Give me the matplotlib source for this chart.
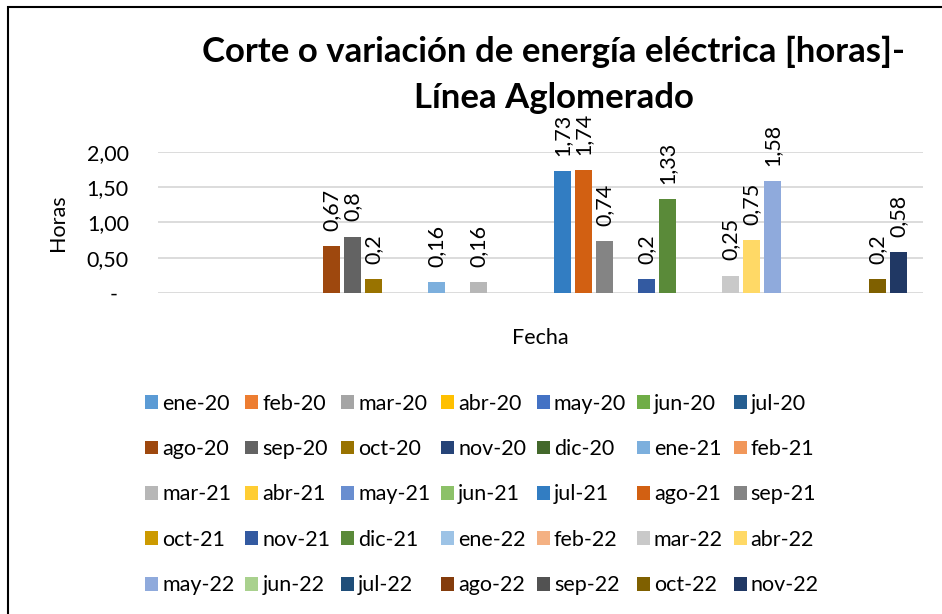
import numpy as np
import matplotlib
matplotlib.use("Agg")
import matplotlib.pyplot as plt
from matplotlib.patches import Rectangle

plt.rcParams['font.family'] = ['Lato', 'DejaVu Sans']

# one series per month, blank months have no value
months = ["ene-20", "feb-20", "mar-20", "abr-20", "may-20", "jun-20", "jul-20",
          "ago-20", "sep-20", "oct-20", "nov-20", "dic-20", "ene-21", "feb-21",
          "mar-21", "abr-21", "may-21", "jun-21", "jul-21", "ago-21", "sep-21",
          "oct-21", "nov-21", "dic-21", "ene-22", "feb-22", "mar-22", "abr-22",
          "may-22", "jun-22", "jul-22", "ago-22", "sep-22", "oct-22", "nov-22"]
hours = [None, None, None, None, None, None, None,
         0.67, 0.8, 0.2, None, None, 0.16, None,
         0.16, None, None, None, 1.73, 1.74, 0.74,
         None, 0.2, 1.33, None, None, 0.25, 0.75,
         1.58, None, None, None, None, 0.2, 0.58]
colors = ["#5B9BD5", "#ED7D31", "#A5A5A5", "#FFC000", "#4472C4", "#70AD47", "#255E91",
          "#9E480E", "#636363", "#997300", "#264478", "#43682B", "#7CAFDD", "#F1975A",
          "#B7B7B7", "#FFCD33", "#698ED0", "#8CC168", "#327DC2", "#D26012", "#848484",
          "#CC9A00", "#335AA1", "#5A8A39", "#9DC3E6", "#F4B183", "#C9C9C9", "#FFD966",
          "#8FAADC", "#A9D18E", "#1F4E79", "#843C0C", "#525252", "#7F6000", "#203864"]
yticks = [0, 0.5, 1.0, 1.5, 2.0]

FS = 15.5
W, H = 942, 614
fig = plt.figure(figsize=(W / 100, H / 100), dpi=100)
ax = fig.add_axes([158 / W, 1 - 293.3 / H, 765 / W, 141.6 / H])

for i, (m, v, c) in enumerate(zip(months, hours, colors)):
    h = np.nan if v is None else v
    ax.bar(i, h, width=0.81, color=c, label=m, zorder=3)
    if v is not None:
        ax.annotate(f"{v:g}".replace(".", ","), (i, v), xytext=(0, 11),
                    textcoords="offset points", rotation=90,
                    ha="center", va="bottom", fontsize=FS)

ax.set_xlim(-1.26, 35.17)
ax.set_ylim(0, 2.0)
ax.set_xticks([])
ax.set_yticks(yticks)


def fmt_hours(v):
    if v == 0:
        return "-  "
    return f"{v:.2f}".replace(".", ",")


ax.set_yticklabels([fmt_hours(v) for v in yticks])
ax.tick_params(axis="y", length=0, pad=21, labelsize=FS)
ax.grid(axis="y", color="#D9D9D9", linewidth=1.3, zorder=0)
for s in ax.spines.values():
    s.set_visible(False)

ax.set_ylabel("Horas", fontsize=FS)
ax.yaxis.set_label_coords(-0.1176, 0.5)
ax.set_xlabel("Fecha", fontsize=FS)
ax.xaxis.set_label_coords(0.5, -0.245)

fig.text(554 / W, 1 - 52 / H, "Corte o variación de energía eléctrica [horas]-",
         ha="center", va="center", fontsize=25, fontweight="bold")
fig.text(554 / W, 1 - 98 / H, "Línea Aglomerado",
         ha="center", va="center", fontsize=25, fontweight="bold")

# legend filled row by row, 7 months per row
handles, labels = ax.get_legend_handles_labels()
ncol, nrow = 7, 5
order = [r * ncol + c for c in range(ncol) for r in range(nrow)]
fig.legend([handles[k] for k in order], [labels[k] for k in order],
           loc="center", bbox_to_anchor=(482 / W, 1 - 494.5 / H), ncol=ncol,
           frameon=False, fontsize=FS, handlelength=0.6, handleheight=0.6,
           handletextpad=0.19, columnspacing=0.5, labelspacing=1.18, borderpad=0)

# chart border
fig.add_artist(Rectangle((8 / W, -0.05), 1.1, 1 - 7 / H + 0.05,
                         transform=fig.transFigure, fill=False,
                         edgecolor="black", linewidth=1.5, clip_on=False))

fig.savefig("out.png", dpi=100)
